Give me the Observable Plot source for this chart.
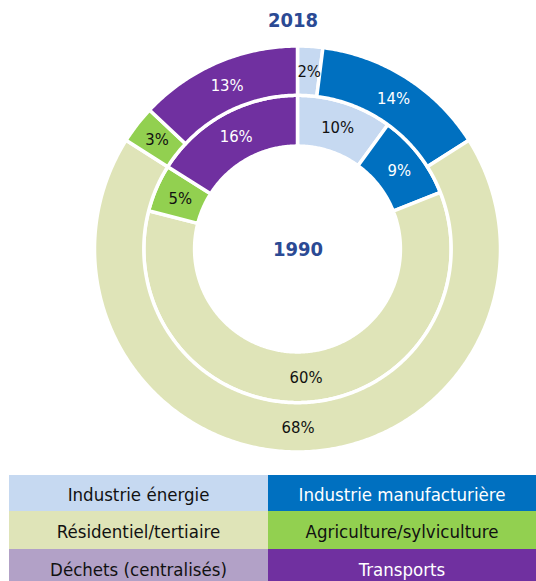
<!DOCTYPE html>
<html><head><meta charset="utf-8">
<script src="https://cdn.jsdelivr.net/npm/d3@7"></script>
<script src="https://cdn.jsdelivr.net/npm/@observablehq/plot@0.6"></script>
<style>
html,body{margin:0;padding:0;background:#fff;width:536px;height:581px;overflow:hidden;font-family:"DejaVu Sans Condensed","DejaVu Sans",sans-serif;}
#title{position:absolute;left:0;top:8px;width:586px;text-align:center;font-weight:bold;font-size:20px;color:#2b4a94;}
#chart{position:absolute;left:0;top:35px;}
#legend{position:absolute;left:9px;top:475px;width:527px;display:grid;grid-template-columns:259px 268px;grid-template-rows:36px 38px 38px;}
#legend div{display:flex;align-items:center;justify-content:center;font-size:18.5px;padding-top:3px;box-sizing:border-box;}
</style>
</head><body>
<div id="title"></div>
<div id="chart"></div>
<div id="legend"></div>
<script>
const categories = ["Industrie énergie","Industrie manufacturière","Résidentiel/tertiaire","Agriculture/sylviculture","Déchets (centralisés)","Transports"];
const colors = ["#c6d9f1","#0070c0","#dfe4b8","#92d050","#b2a1c7","#7030a0"];
const textColors = ["#111","#fff","#111","#111","#111","#fff"];
const years = ["1990","2018"];
const values1990 = [10,9,60,5,0,16];
const values2018 = [2,14,68,3,0,13];

const rings = [
  {year: years[0], values: values1990, r0: 0.507, r1: 0.757},
  {year: years[1], values: values2018, r0: 0.757, r1: 1.0}
];

const arcs = [];
const labels = [];
for (const ring of rings) {
  const total = d3.sum(ring.values);
  let acc = 0;
  ring.values.forEach((v, i) => {
    const a0 = acc / total * 2 * Math.PI;
    acc += v;
    const a1 = acc / total * 2 * Math.PI;
    if (v <= 0) return;
    const n = Math.max(2, Math.ceil((a1 - a0) / 0.01));
    for (let k = 0; k <= n; k++) {
      const a = a0 + (a1 - a0) * k / n;
      arcs.push({key: ring.year + i, cat: categories[i],
        x1: ring.r1 * Math.sin(a), y1: ring.r1 * Math.cos(a),
        x2: ring.r0 * Math.sin(a), y2: ring.r0 * Math.cos(a)});
    }
    const am = (a0 + a1) / 2, rm = (ring.r0 + ring.r1) / 2;
    labels.push({x: rm * Math.sin(am), y: rm * Math.cos(am), text: v + "%", color: textColors[i]});
  });
}

const R = 203, cx = 297.5, cy = 214;
const chart = Plot.plot({
  width: 536, height: 435,
  margin: 0,
  x: {domain: [-1, 1], range: [cx - R, cx + R], axis: null},
  y: {domain: [-1, 1], range: [cy + R, cy - R], axis: null},
  color: {domain: categories, range: colors},
  style: {fontFamily: '"DejaVu Sans Condensed","DejaVu Sans",sans-serif', background: "white"},
  marks: [
    Plot.area(arcs, {x1: "x1", y1: "y1", x2: "x2", y2: "y2", z: "key", fill: "cat", stroke: "white", strokeWidth: 3.5, curve: "linear"}),
    Plot.text(labels, {x: "x", y: "y", text: "text", fill: d => d.color, fontSize: 16.5}),
    Plot.text([{year: years[0]}], {x: () => 0, y: () => 0, text: "year", fill: "#2b4a94", fontWeight: "bold", fontSize: 20})
  ]
});
document.getElementById("chart").appendChild(chart);
document.getElementById("title").textContent = years[1];

const legend = document.getElementById("legend");
categories.forEach((c, i) => {
  const d = document.createElement("div");
  d.textContent = c;
  d.style.background = colors[i];
  d.style.color = textColors[i];
  legend.appendChild(d);
});
</script>
</body></html>
